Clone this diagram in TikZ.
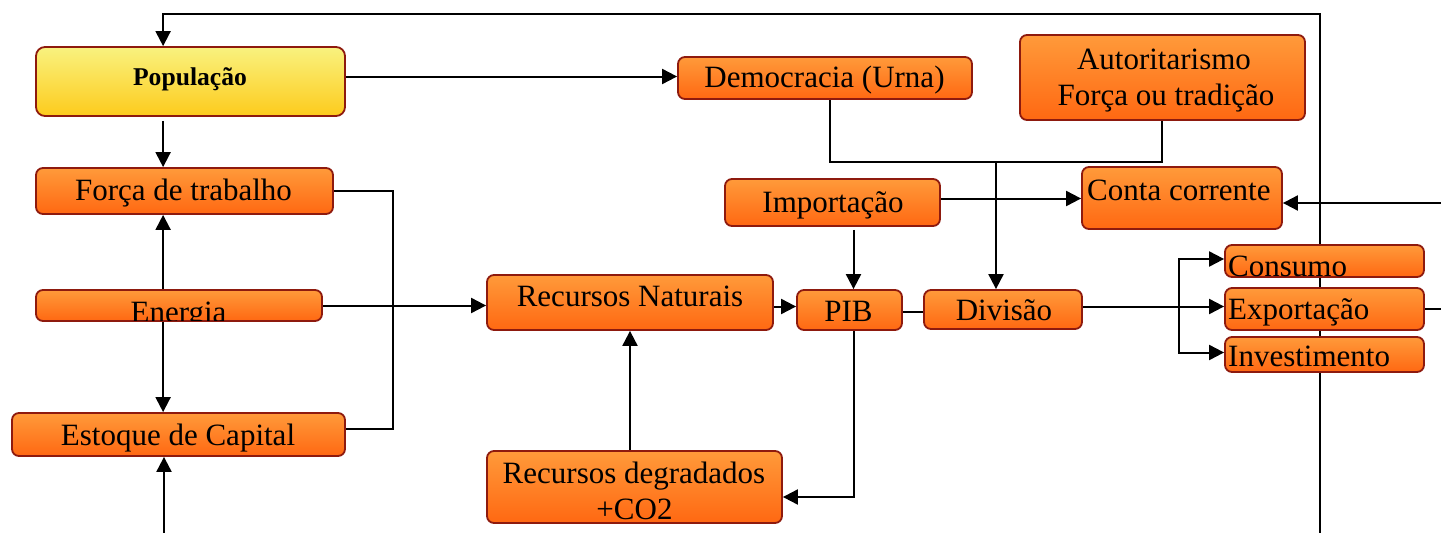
\documentclass[tikz,border=0pt]{standalone}
\usepackage{fontspec}
\setmainfont{Liberation Serif}
\usetikzlibrary{arrows.meta}
\pgfdeclarelayer{bg}
\pgfsetlayers{bg,main}
\definecolor{otop}{HTML}{FF9A3A}
\definecolor{obot}{HTML}{FF6812}
\definecolor{ytop}{HTML}{F9F27F}
\definecolor{ybot}{HTML}{FDCB1C}
\definecolor{bord}{HTML}{8E1A0E}
\tikzset{
  obox/.style={draw=bord, line width=1.8pt, rounded corners=7pt, top color=otop, bottom color=obot, inner sep=0pt},
  ybox/.style={draw=bord, line width=1.8pt, rounded corners=9pt, top color=ytop, bottom color=ybot, inner sep=0pt},
  txt/.style={font=\fontsize{31pt}{36pt}\selectfont, inner sep=0pt, anchor=base},
  btxt/.style={font=\fontsize{25.6pt}{30pt}\selectfont\bfseries, inner sep=0pt, anchor=base},
  ln/.style={line width=2pt, black},
  arr/.style={ln, -{Triangle[length=15pt,width=15pt]}}
}
\begin{document}
\begin{tikzpicture}[x=1pt,y=-1pt]
\useasboundingbox (0,0) rectangle (1441,533);
% boxes
\node[ybox, minimum width=309pt, minimum height=69pt] (pop) at (190.5,81.5) {};
\node[obox, minimum width=297pt, minimum height=46pt] (ft) at (184.5,191) {};
\node[obox, minimum width=286pt, minimum height=31pt] (en) at (179,305.5) {};
\node[obox, minimum width=333pt, minimum height=43pt] (ec) at (178.5,434.5) {};
\node[obox, minimum width=286pt, minimum height=55pt] (rn) at (630,302.5) {};
\node[obox, minimum width=105pt, minimum height=40pt] (pib) at (849.5,310) {};
\node[obox, minimum width=295pt, minimum height=72pt] (rd) at (634.5,487) {};
\node[obox, minimum width=200pt, minimum height=62pt] (cc) at (1182,198) {};
\node[obox, minimum width=199pt, minimum height=32pt] (co) at (1324.5,261) {};
\node[obox, minimum width=199pt, minimum height=42pt] (ex) at (1324.5,309) {};
\node[obox, minimum width=199pt, minimum height=35pt] (iv) at (1324.5,354.5) {};
\node[obox, minimum width=294pt, minimum height=42pt] (dm) at (825,78) {};
\node[obox, minimum width=285pt, minimum height=85pt] (au) at (1162.5,77.5) {};
\node[obox, minimum width=215pt, minimum height=47pt] (im) at (832.5,202.5) {};
\node[obox, minimum width=158pt, minimum height=39pt] (dv) at (1003,309.5) {};
% clipped texts
\begin{scope}
\clip ([yshift=1pt]en.south west) rectangle (en.north east);
\node[txt] (ent) at (178.5,322.5) {Energia};
\end{scope}
\begin{scope}
\clip ([yshift=1pt]co.south west) rectangle (co.north east);
\node[txt, anchor=base west] (cot) at (1228,276) {Consumo};
\end{scope}
% texts
\node[btxt] (popt) at (190,85) {População};
\node[txt] (ftt) at (183.5,200) {Força de trabalho};
\node[txt] (ect) at (178,445) {Estoque de Capital};
\node[txt] (rnt) at (630,306) {Recursos Naturais};
\node[txt] (pibt) at (848.5,321) {PIB};
\node[txt] (rdt1) at (634,483) {Recursos degradados};
\node[txt] (rdt2) at (634.5,519) {+CO2};
\node[txt, anchor=base west] (cct) at (1087,200.5) {Conta corrente};
\node[txt, anchor=base west] (ext) at (1228,319) {Exportação};
\node[txt, anchor=base west] (ivt) at (1228,366) {Investimento};
\node[txt] (dmt) at (824.5,87) {Democracia (Urna)};
\node[txt] (aut1) at (1164,69) {Autoritarismo};
\node[txt] (aut2) at (1166,105.5) {Força ou tradição};
\node[txt] (imt) at (833,212) {Importação};
\node[txt] (dvt) at (1004,320) {Divisão};
% free ends
\coordinate (fbS) at (1320,533);
\coordinate (fbT) at (1320,14);
\coordinate (ecB) at (164,533);
\coordinate (exR) at (1441,309);
\coordinate (ccR) at (1441,203);
\coordinate (mrg) at ([xshift=5pt,yshift=-62pt]dm.south);
\coordinate (br) at ([xshift=96pt,yshift=3pt]dv.east);
\begin{pgfonlayer}{bg}
\draw[arr] (fbS) -- (fbT) -| ([xshift=128pt]pop.north west);
\draw[arr, shorten <=4pt] ([xshift=128pt]pop.south west) -- ([xshift=128pt]ft.north west);
\draw[arr] ([xshift=128pt]en.north west) -- ([xshift=128pt]ft.south west);
\draw[arr] ([xshift=128pt]en.south west) -- ([xshift=152pt]ec.north west);
\draw[arr] (ecB) -- (ecB |- ec.south);
\draw[ln] (ft.east) -- ++(59,0) |- ([yshift=6pt]ec.east);
\draw[arr] ([yshift=5pt]pop.east) -- ([yshift=5pt]pop.east -| dm.west);
\draw[arr] (en.east) -- (en.east -| rn.west);
\draw[arr] ([yshift=-4pt]rn.east) -- ([yshift=-4pt]rn.east -| pib.west);
\draw[arr] (rn.south |- rd.north) -- (rn.south);
\draw[arr] ([xshift=4pt]pib.south) |- ([yshift=-10pt]rd.east);
\draw[arr, shorten <=3pt] ([xshift=4pt]pib.north |- im.south) -- ([xshift=4pt]pib.north);
\draw[arr] ([yshift=4pt]im.east) -- ([yshift=4pt]im.east -| cc.west);
\draw[ln] ([xshift=5pt]dm.south) -- (mrg) -| ([xshift=-0.5pt]au.south);
\draw[arr] ([xshift=-7pt]dv.north |- mrg) -- ([xshift=-7pt]dv.north);
\draw[ln] ([yshift=-2pt]pib.east) -- ([yshift=-2pt]pib.east -| dv.west);
\draw[arr] ([yshift=3pt]dv.east) -- ([yshift=3pt]dv.east -| ex.west);
\draw[arr] (br) |- ([yshift=2pt]co.west);
\draw[arr] (br) |- ([yshift=2pt]iv.west);
\draw[ln] (ex.east) -- (exR);
\draw[arr] (ccR) -- (ccR -| cc.east);
\end{pgfonlayer}
\end{tikzpicture}
\end{document}
